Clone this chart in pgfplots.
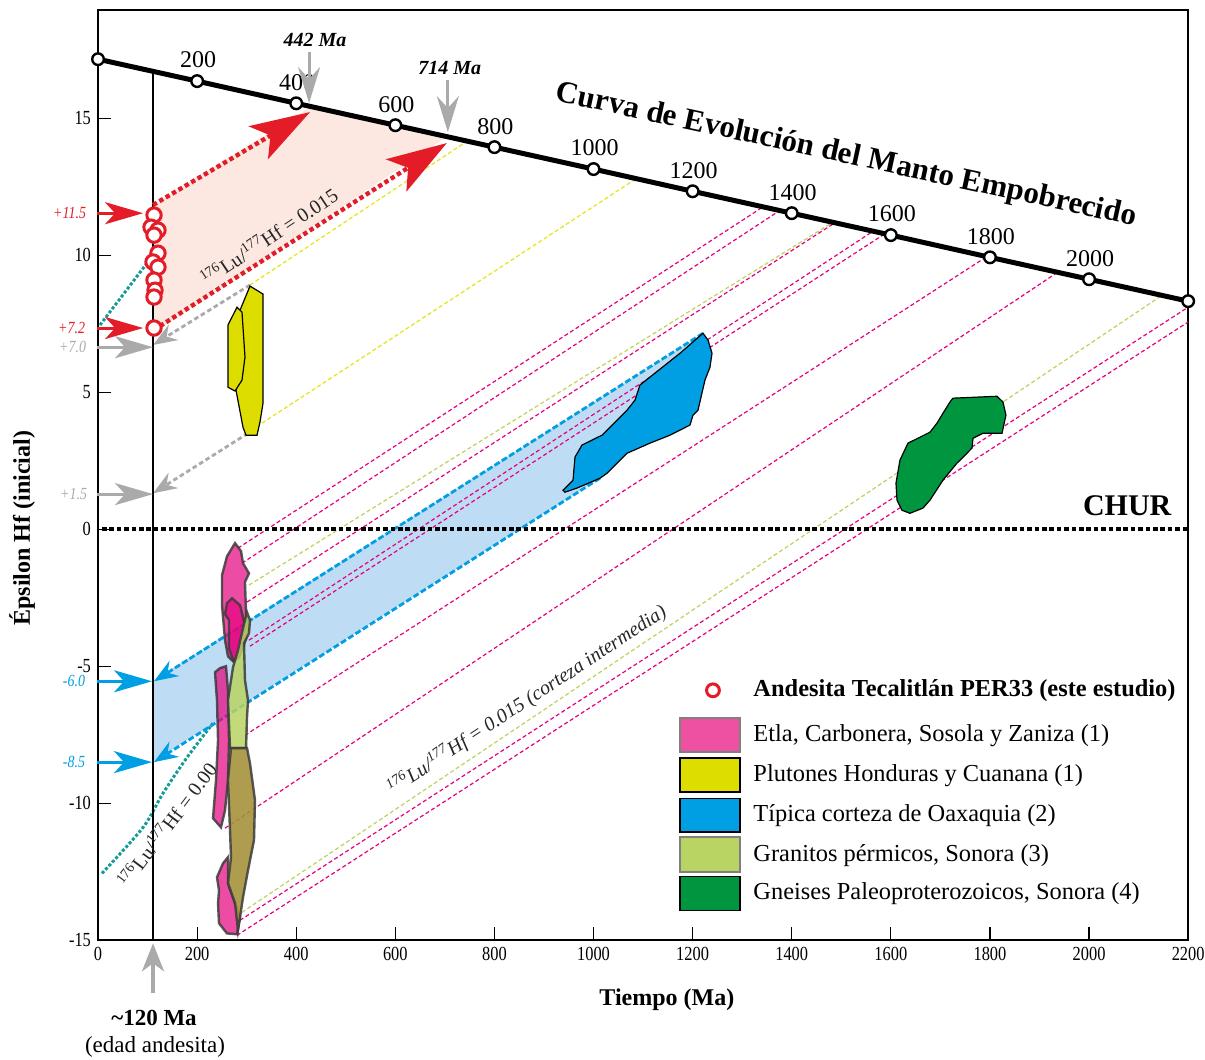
\documentclass[border=0pt]{standalone}
\usepackage{fontspec}
\setmainfont{Liberation Serif}
\newfontfamily\condensed{Liberation Serif}[FakeStretch=0.82]
\usepackage{pgfplots}
\pgfplotsset{compat=1.18}
\usetikzlibrary{arrows.meta}
\newcommand{\Eac}{\symbol{"00C9}}
\newcommand{\eac}{\symbol{"00E9}}
\newcommand{\oac}{\symbol{"00F3}}
\newcommand{\aac}{\symbol{"00E1}}
\newcommand{\iac}{\symbol{"00ED}}
\definecolor{redc}{RGB}{228,28,40}
\definecolor{salmon}{RGB}{252,232,224}
\definecolor{tealc}{RGB}{20,155,150}
\definecolor{bluec}{RGB}{0,159,227}
\definecolor{lightblue}{RGB}{190,220,243}
\definecolor{greenc}{RGB}{0,150,64}
\definecolor{yellowc}{RGB}{221,221,0}
\definecolor{yellowline}{RGB}{228,228,20}
\definecolor{pinkline}{RGB}{230,0,126}
\definecolor{pinkfill}{RGB}{230,0,126}
\definecolor{pinkswatch}{RGB}{238,80,162}
\definecolor{ygc}{RGB}{185,212,99}
\definecolor{ygline}{RGB}{190,210,90}
\definecolor{olive}{RGB}{165,145,60}
\definecolor{grayc}{RGB}{170,170,170}
\definecolor{outl}{RGB}{60,60,60}
\tikzset{
  ll/.style={anchor=east, font=\condensed\itshape\fontsize{8.5}{10}\selectfont},
  lt/.style={anchor=west, font=\fontsize{12.2}{14}\selectfont, inner sep=0pt},
  ml/.style={font=\fontsize{12}{14}\selectfont, xshift=0.5pt, yshift=10.5pt},
  gl/.style={line width=0.6pt, dash pattern=on 2pt off 1.3pt},
  pk/.style={fill=pinkfill, fill opacity=0.7, draw=outl, draw opacity=0.85, line width=1.2pt},
  la/.style={line width=1.5pt, -{Stealth[length=19pt,width=11pt,inset=5pt]}},
}
\begin{document}
\begin{tikzpicture}
\begin{axis}[
  scale only axis, width=545pt, height=465pt,
  xmin=0, xmax=2200, ymin=-15, ymax=18.94,
  clip=false,
  axis line style={line width=1.2pt},
  xtick={0,200,...,2200}, ytick={-15,-10,-5,0,5,10,15},
  tick pos=left, tick align=inside,
  major tick length=6.5pt,
  tick style={black, line width=0.6pt},
  /pgf/number format/assume math mode=true,
  /pgf/number format/1000 sep={},
  ticklabel style={font=\condensed\fontsize{10}{11}\selectfont},
  xlabel={Tiempo (Ma)}, ylabel={\Eac psilon Hf (inicial)},
  xlabel style={font=\bfseries\fontsize{12}{14}\selectfont, at={(axis cs:1148,-17.16)}, anchor=center},
  ylabel style={font=\bfseries\fontsize{12}{14}\selectfont, at={(axis cs:-153,0.04)}, anchor=center},
]
\coordinate (BL) at (axis cs:-197.8,-19.35);
\coordinate (TR) at (axis cs:2234,19.31);

% shaded regions
\addplot[fill=salmon, draw=none] coordinates {(111,11.83)(430,15.42)(704,14.32)(111,7.15)} -- cycle;
\addplot[fill=lightblue, draw=none] coordinates {(109,-5.55)(1221,7.15)(1013,1.86)(109,-8.50)} -- cycle;

% growth lines
\addplot[gl, pinkline] coordinates {(282.5,-0.69)(1342,11.76)};
\addplot[gl, pinkline] coordinates {(290.6,-1.24)(1376,11.63)};
\addplot[gl, pinkline] coordinates {(300.7,-2.66)(1487,11.18)};
\addplot[gl, pinkline] coordinates {(304.7,-4.05)(1564,10.87)};
\addplot[gl, pinkline] coordinates {(306.7,-4.27)(1588,10.78)};
\addplot[gl, pinkline] coordinates {(296.6,-7.52)(1794,9.95)};
\addplot[gl, pinkline] coordinates {(256.3,-10.91)(1937,9.38)};
\addplot[gl, pinkline] coordinates {(286.6,-14.27)(2200,8.10)};
\addplot[gl, pinkline] coordinates {(280.5,-14.82)(2200,7.56)};
\addplot[gl, ygline] coordinates {(304.7,-2.04)(1483,11.20)};
\addplot[gl, ygline] coordinates {(290.6,-13.98)(2147,8.53)};
\addplot[gl, yellowline] coordinates {(306.7,8.91)(745,14.16)};
\addplot[gl, yellowline] coordinates {(331,3.87)(1086,12.79)};

% teal dotted
\addplot[tealc, line width=1.5pt, dash pattern=on 1.5pt off 1pt] coordinates {(4,7.45)(99,9.71)};
\addplot[tealc, line width=1.5pt, dash pattern=on 1.5pt off 1pt, smooth] coordinates {(8,-12.56)(91,-10.88)(131,-9.64)(180,-8.32)(232,-7.08)};

% gray dashed arrows
\addplot[grayc, line width=1.4pt, dash pattern=on 2.3pt off 1.5pt, -{Stealth[length=12pt,width=9pt,inset=4pt]}] coordinates {(306.7,8.91)(111,6.72)};
\addplot[grayc, line width=1.4pt, dash pattern=on 2.3pt off 1.5pt, -{Stealth[length=12pt,width=9pt,inset=4pt]}] coordinates {(302.7,3.50)(111,1.31)};

% blue dashed arrows
\addplot[bluec, line width=1.4pt, dash pattern=on 3pt off 1.3pt, -{Stealth[length=12pt,width=9pt,inset=4pt]}] coordinates {(1221,7.15)(113,-5.55)};
\addplot[bluec, line width=1.4pt, dash pattern=on 3pt off 1.3pt, -{Stealth[length=12pt,width=9pt,inset=4pt]}] coordinates {(1013,1.86)(113,-8.50)};

% yellow polygons
\addplot[fill=yellowc, draw=black, line width=0.6pt] coordinates {(306.7,8.87)(333.0,8.58)(333.0,4.60)(326.9,3.91)(320.9,3.43)(298.7,3.43)(292.6,3.72)(278.5,5.07)(282.5,7.81)} -- cycle;
\addplot[fill=yellowc, draw=black, line width=0.6pt] coordinates {(280.5,8.10)(290.6,7.92)(296.6,6.28)(290.6,5.44)(276.5,5.04)(262.3,5.18)(262.3,7.45)} -- cycle;

% pink / green polygons
\addplot[pk] coordinates {(276.5,-0.51)(288.6,-0.80)(292.6,-1.24)(304.7,-1.61)(296.6,-1.93)(298.7,-3.03)(302.7,-3.69)(294.6,-4.23)(284.5,-4.67)(272.4,-4.82)(262.3,-4.64)(256.3,-4.05)(250.2,-2.77)(250.2,-1.68)(260.3,-0.99)} -- cycle;
\addplot[pk] coordinates {(256.3,-3.10)(264.4,-3.32)(264.4,-4.34)(272.4,-4.78)(282.5,-4.71)(292.6,-4.23)(296.6,-3.50)(286.6,-2.77)(270.4,-2.52)(260.3,-2.70)} -- cycle;
\addplot[pk] coordinates {(246.2,-5.07)(258.3,-5.00)(262.3,-5.88)(264.4,-7.70)(262.3,-9.16)(256.3,-10.26)(248.2,-10.88)(232.1,-10.55)(238.1,-9.16)(242.2,-7.70)(240.1,-6.24)(236.1,-5.22)} -- cycle;
\addplot[pk] coordinates {(262.3,-11.97)(252.3,-12.19)(240.1,-12.70)(244.2,-13.18)(242.2,-13.65)(244.2,-14.38)(260.3,-14.75)(280.5,-14.78)(286.6,-14.16)(276.5,-13.65)(262.3,-12.92)} -- cycle;
\addplot[fill=ygc, fill opacity=0.85, draw=outl, draw opacity=0.85, line width=1.2pt] coordinates {(300.7,-3.03)(306.7,-3.32)(304.7,-3.80)(294.6,-4.16)(296.6,-5.51)(302.7,-6.24)(300.7,-6.86)(298.7,-7.99)(266.4,-7.99)(262.3,-6.24)(272.4,-5.04)(282.5,-4.42)(292.6,-3.61)} -- cycle;
\addplot[fill=olive, fill opacity=0.9, draw=outl, draw opacity=0.85, line width=1.2pt] coordinates {(268.4,-7.99)(300.7,-7.99)(306.7,-8.54)(316.8,-9.89)(314.8,-11.35)(302.7,-12.45)(292.6,-13.43)(286.6,-14.16)(282.5,-14.64)(276.5,-13.65)(262.3,-12.92)(268.4,-11.97)(266.4,-10.99)(262.3,-9.16)} -- cycle;

% Oaxaquia polygon
\addplot[fill=bluec, draw=black, line width=0.6pt] coordinates {(938.4,1.42)(958.6,1.79)(962.6,2.63)(976.7,3.07)(1017.1,3.43)(1067.5,4.34)(1083.7,4.71)(1093.8,5.26)(1113.9,5.55)(1174.5,6.42)(1220.9,7.15)(1231.0,6.90)(1239.1,6.42)(1235.0,5.91)(1224.9,5.44)(1210.8,4.34)(1200.7,4.16)(1194.7,3.80)(1154.3,3.43)(1113.9,3.14)(1067.5,2.77)(1027.2,2.04)(1013.0,1.86)(966.6,1.50)(942.4,1.35)} -- cycle;
% Gneises polygon
\addplot[fill=greenc, draw=black, line width=0.6pt] coordinates {(1725.4,4.78)(1814.2,4.85)(1826.3,4.64)(1832.3,4.16)(1824.3,3.50)(1785.9,3.50)(1765.8,3.32)(1763.7,2.96)(1753.6,2.77)(1733.5,2.41)(1705.2,1.79)(1679.0,1.06)(1664.9,0.77)(1638.6,0.58)(1622.5,0.69)(1612.4,1.06)(1610.4,1.68)(1618.4,2.52)(1634.6,3.14)(1654.8,3.32)(1679.0,3.54)(1693.1,3.87)(1705.2,4.23)(1719.3,4.64)} -- cycle;

% CHUR
\addplot[black, line width=2.3pt, dash pattern=on 2.3pt off 1.4pt] coordinates {(8,0)(2200,0)};
\node[font=\bfseries\fontsize{15}{17}\selectfont] at (axis cs:2077,0.84) {CHUR};

% vertical line at andesite age
\addplot[black, line width=1pt] coordinates {(111,16.70)(111,-15)};

% mantle curve
\addplot[black, line width=2.5pt, mark=*, mark size=2.9pt, mark options={fill=white, draw=black, line width=1.2pt, solid}] coordinates {(0,17.15)(200,16.35)(400,15.54)(600,14.74)(800,13.94)(1000,13.14)(1200,12.33)(1400,11.53)(1600,10.73)(1800,9.92)(2000,9.12)(2200,8.32)};
\node[ml] at (axis cs:200,16.35) {200};
\node[ml] at (axis cs:400,15.54) {400};
\node[ml] at (axis cs:600,14.74) {600};
\node[ml] at (axis cs:800,13.94) {800};
\node[ml] at (axis cs:1000,13.14) {1000};
\node[ml] at (axis cs:1200,12.33) {1200};
\node[ml] at (axis cs:1400,11.53) {1400};
\node[ml] at (axis cs:1600,10.73) {1600};
\node[ml] at (axis cs:1800,9.92) {1800};
\node[ml] at (axis cs:2000,9.12) {2000};
\node[font=\bfseries\fontsize{15.5}{18}\selectfont, rotate=-12.2] at (axis cs:1510,13.62) {Curva de Evoluci\oac n del Manto Empobrecido};

% red dotted arrows
\addplot[redc, line width=2.2pt, dash pattern=on 2.2pt off 1.5pt, -{Stealth[length=30pt,width=19pt,inset=7pt]}] coordinates {(111,11.83)(428,15.22)};
\addplot[redc, line width=2.2pt, dash pattern=on 2.2pt off 1.5pt, -{Stealth[length=30pt,width=19pt,inset=7pt]}] coordinates {(125,7.41)(704,14.09)};

% gray down arrows
\addplot[grayc, line width=1.6pt, -{Stealth[length=18pt,width=11pt,inset=6pt]}] coordinates {(426,17.41)(426,15.55)};
\addplot[grayc, line width=1.6pt, -{Stealth[length=18pt,width=11pt,inset=6pt]}] coordinates {(706,16.39)(706,14.49)};
\node[font=\bfseries\itshape\fontsize{10}{12}\selectfont] at (axis cs:438,17.85) {442 Ma};
\node[font=\bfseries\itshape\fontsize{10}{12}\selectfont] at (axis cs:710,16.83) {714 Ma};

% andesite data
\addplot[only marks, mark=*, mark size=3.6pt, mark options={fill=white, draw=redc, line width=1.5pt}] coordinates {(113,11.46)(107,11.02)(121,10.91)(113,10.73)(121,10.07)(111,9.75)(121,9.56)(113,9.09)(115,8.72)(113,8.47)(113,7.34)};

% left arrows and labels
\addplot[la, redc] coordinates {(-2,11.53)(91,11.53)};
\addplot[la, redc] coordinates {(-2,7.34)(91,7.34)};
\addplot[la, grayc] coordinates {(-2,6.64)(111,6.64)};
\addplot[la, grayc] coordinates {(-2,1.28)(111,1.28)};
\addplot[la, bluec] coordinates {(-2,-5.55)(109,-5.55)};
\addplot[la, bluec] coordinates {(-2,-8.50)(109,-8.50)};
\node[ll, text=redc] at (axis cs:-10,11.53) {+11.5};
\node[ll, text=redc] at (axis cs:-12,7.34) {+7.2};
\node[ll, text=grayc] at (axis cs:-10,6.64) {+7.0};
\node[ll, text=grayc] at (axis cs:-8,1.28) {+1.5};
\node[ll, text=bluec] at (axis cs:-12,-5.55) {-6.0};
\node[ll, text=bluec] at (axis cs:-12,-8.50) {-8.5};

% Lu/Hf labels
\node[rotate=33.6, font=\fontsize{10}{12}\selectfont, text=black!85] at (axis cs:345,10.69) {\textsuperscript{176}Lu/\textsuperscript{177}Hf = 0.015};
\node[rotate=53, font=\fontsize{10}{12}\selectfont, text=black!85] at (axis cs:139,-10.78) {\textsuperscript{176}Lu/\textsuperscript{177}Hf = 0.00};
\node[rotate=33.3, font=\itshape\fontsize{10}{12}\selectfont, text=black!85] at (axis cs:866,-6.24) {\textsuperscript{176}Lu/\textsuperscript{177}Hf = 0.015 (corteza intermedia)};

% age arrow below axis
\addplot[grayc, line width=2pt, -{Stealth[length=14pt,width=11pt,inset=4pt]}] coordinates {(111,-16.94)(111,-15.11)};
\node[font=\bfseries\fontsize{11.5}{13}\selectfont] at (axis cs:113,-17.85) {\symbol{"007E}120 Ma};
\node[font=\fontsize{11.5}{13}\selectfont] at (axis cs:115,-18.91) {(edad andesita)};

% legend
\addplot[only marks, mark=*, mark size=3.2pt, mark options={fill=white, draw=redc, line width=1.5pt}] coordinates {(1241,-5.88)};
\draw[fill=pinkswatch, draw=gray, line width=0.8pt] (axis cs:1174.5,-6.90) rectangle (axis cs:1295.6,-8.14);
\draw[fill=yellowc, draw=black, line width=0.8pt] (axis cs:1174.5,-8.36) rectangle (axis cs:1295.6,-9.60);
\draw[fill=bluec, draw=black, line width=0.8pt] (axis cs:1174.5,-9.82) rectangle (axis cs:1295.6,-11.06);
\draw[fill=ygc, draw=gray, line width=0.8pt] (axis cs:1174.5,-11.24) rectangle (axis cs:1295.6,-12.52);
\draw[fill=greenc, draw=black, line width=0.8pt] (axis cs:1174.5,-12.67) rectangle (axis cs:1295.6,-13.91);
\node[lt, font=\bfseries\fontsize{12.2}{14}\selectfont] at (axis cs:1322,-5.88) {Andesita Tecalitl\aac n PER33 (este estudio)};
\node[lt] at (axis cs:1322,-7.52) {Etla, Carbonera, Sosola y Zaniza (1)};
\node[lt] at (axis cs:1322,-8.98) {Plutones Honduras y Cuanana (1)};
\node[lt] at (axis cs:1322,-10.44) {T\iac pica corteza de Oaxaquia (2)};
\node[lt] at (axis cs:1322,-11.90) {Granitos p\eac rmicos, Sonora (3)};
\node[lt] at (axis cs:1322,-13.29) {Gneises Paleoproterozoicos, Sonora (4)};
\end{axis}
\pgfresetboundingbox
\path[use as bounding box] (BL) rectangle (TR);
\end{tikzpicture}
\end{document}
